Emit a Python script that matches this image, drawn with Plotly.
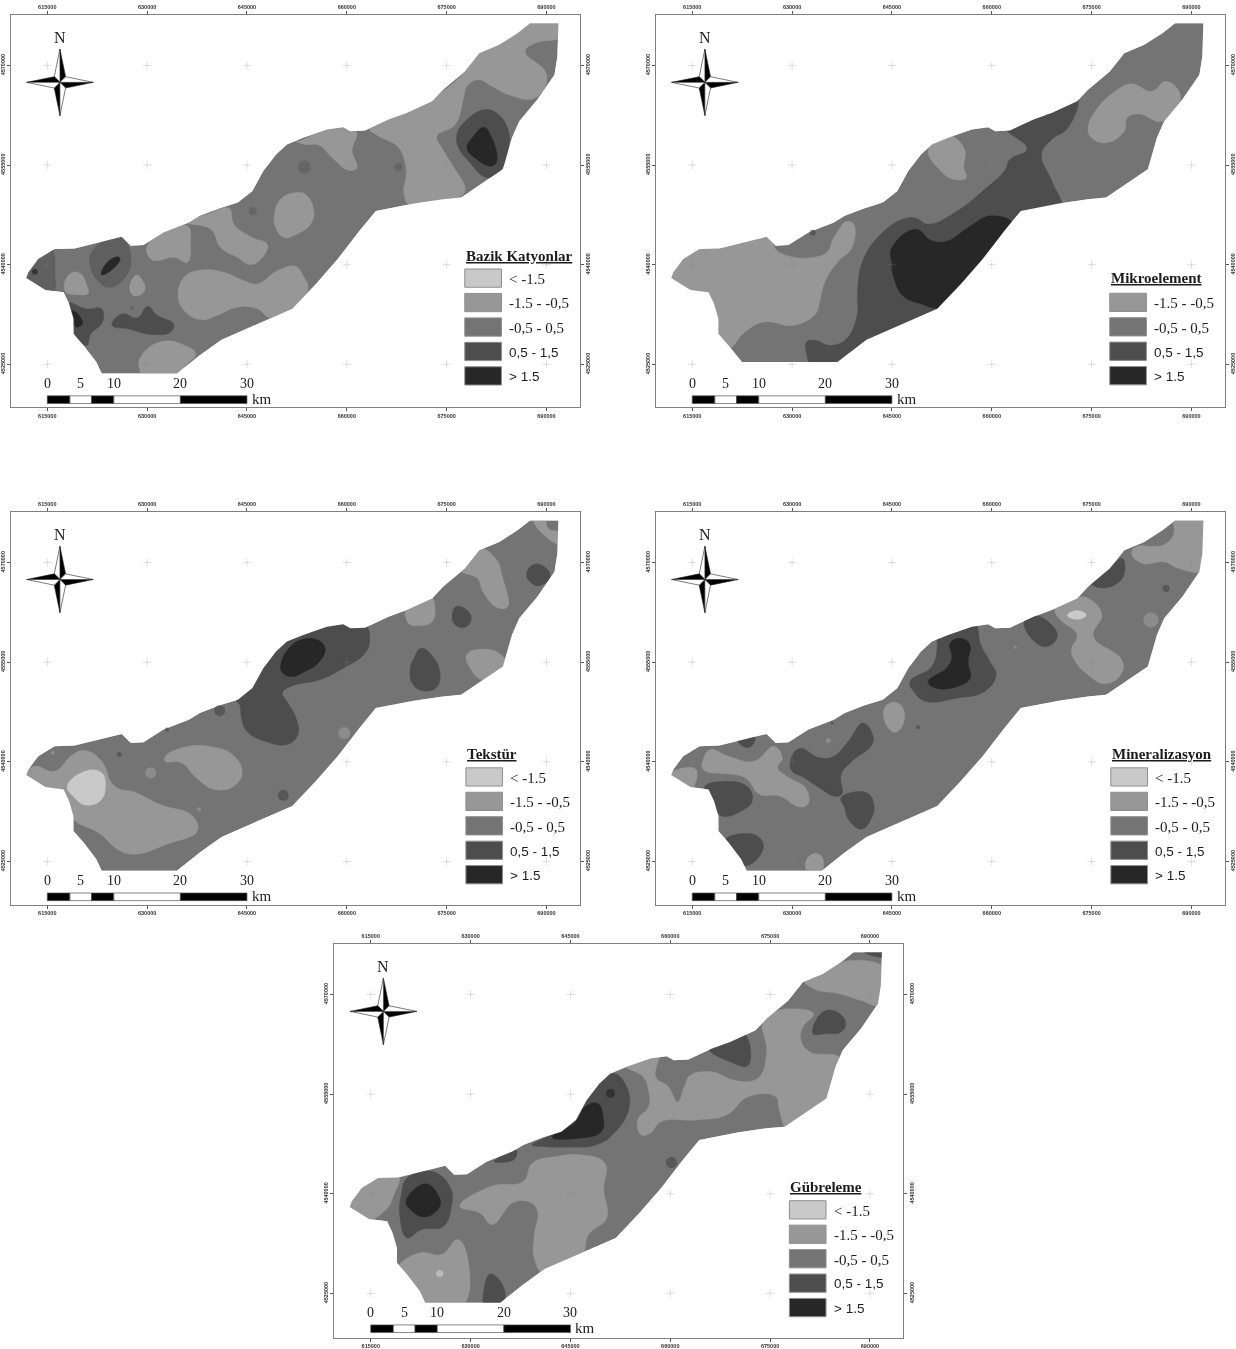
import plotly.graph_objects as go

# ---------- classes ----------
CLASS_LABELS = ["< -1.5", "-1.5 - -0,5", "-0,5 - 0,5", "0,5 - 1,5", "> 1.5"]
CLASS_COLORS = ["#c9c9c9", "#979797", "#747474", "#4d4d4d", "#272727"]
MID_COLOR = "#5f5f5f"
PANEL_TITLES = ["Bazik Katyonlar", "Mikroelement", "Tekstür", "Mineralizasyon", "Gübreleme"]
EAST_TICKS = [615000, 630000, 645000, 660000, 675000, 690000]
NORTH_TICKS = [4525000, 4540000, 4555000, 4570000]
SCALE_EDGES_KM = [0, 3.4, 6.65, 10, 20, 30]
SCALE_LABELS_KM = [0, 5, 10, 20, 30]

# ---------- map read-offs: x = 275 units per 15 km, y = 300 units per 15 km ----------
OUTLINE = [(1508,25),(1505,125),(1497,180),(1450,255),(1400,320),(1380,370),(1355,465),(1300,505),(1240,550),(1190,555),
           (1110,568),(1005,590),(960,650),(900,735),(840,810),(775,885),(680,930),(580,978),(520,1025),(457,1080),
           (250,1080),(235,1045),(200,995),(172,960),(172,915),(160,870),(145,835),(95,828),(42,792),(48,775),
           (75,735),(120,705),(175,703),(245,685),(305,668),(330,695),(365,693),(420,655),(490,625),(520,605),
           (575,582),(625,565),(665,530),(695,470),(730,420),(760,390),(805,370),(870,345),(915,338),(935,350),
           (975,348),(1040,315),(1090,295),(1160,260),(1190,225),(1250,170),(1290,115),(1345,90),(1395,55),(1430,25)]
OUTLINE_P2 = [(1508,25),(1505,125),(1497,180),(1450,255),(1400,320),(1380,370),(1355,465),(1300,505),(1240,550),(1190,555),
           (1110,568),(1005,590),(960,650),(900,735),(840,810),(775,885),(680,930),(580,978),(500,1045),
           (237,1045),(200,995),(172,960),(172,915),(160,870),(145,835),(95,828),(42,792),(48,775),
           (75,735),(120,705),(175,703),(245,685),(305,668),(330,695),(365,693),(420,655),(490,625),(520,605),
           (575,582),(625,565),(665,530),(695,470),(730,420),(760,390),(805,370),(870,345),(915,338),(935,350),
           (975,348),(1040,315),(1090,295),(1160,260),(1190,225),(1250,170),(1290,115),(1345,90),(1395,55),(1430,25)]

def k(points):
    """Panel 1 was read at 300 units per 15 km in x."""
    return [(x * 2.75 / 3, y) for x, y in points]

def r(points):
    """Panel 1, east half of the reading."""
    return [(x + 855, y) for x, y in points]

P1_LOW = [
    k([(165,795),(185,775),(210,780),(228,815),(232,838),(195,842),(165,835),(160,815)]),
    k([(380,783),(395,800),(403,825),(385,845),(365,843),(357,820),(365,795)]),
    k([(408,700),(460,655),(530,635),(540,690),(530,745),(490,730),(440,740),(420,735)]),
    k([(530,625),(590,600),(655,582),(670,630),(725,670),(770,690),(760,725),(720,752),(680,730),(630,700),(600,645)]),
    k([(520,790),(570,768),(640,775),(700,800),(740,810),(800,770),(855,757),(880,790),(893,820),(860,880),(780,912),(740,885),(680,880),(620,905),(570,918),(520,890),(502,845)]),
    k([(855,535),(885,540),(910,590),(900,630),(855,662),(820,670),(795,640),(792,600),(810,555)]),
    k([(385,1040),(410,1005),(460,982),(510,990),(555,1020),(530,1050),(490,1090),(400,1090),(385,1060)]),
    k(r([(10,380),(100,345),(182,352),(170,410),(185,460),(160,468),(110,430),(70,392),(30,390),(0,380)])),
    k(r([(222,340),(350,285),(420,245),(490,190),(540,120),(700,15),(800,15),(800,65),(720,85),(690,110),(755,180),(720,250),(640,240),(590,215),(550,195),(515,215),(505,250),(480,330),(425,365),(440,400),(470,450),(510,525),(490,550),(420,560),(345,575),(325,530),(332,490),(328,440),(305,395),(250,365)])),
]
P1_MID = [
    k([(130,720),(132,770),(128,832),(90,835),(30,795),(60,755),(85,730),(120,700)]),
    k([(300,672),(335,672),(360,725),(350,780),(300,820),(265,805),(238,755),(245,710)]),
]
P1_HIGH = [
    k([(175,868),(225,885),(272,885),(275,925),(240,960),(228,995),(195,970),(188,935),(175,895)]),
    k([(303,930),(335,900),(380,912),(410,878),(440,905),(488,930),(480,955),(420,962),(350,945),(310,940)]),
    k(r([(570,285),(610,300),(640,350),(640,400),(615,470),(575,490),(520,440),(490,400),(485,360),(510,320)])),
]
P1_TOP = [
    k([(185,890),(205,905),(215,930),(195,940),(190,915)]),
    k([(285,750),(320,728),(328,735),(300,770),(272,782)]),
    k(r([(565,338),(585,360),(605,440),(590,455),(545,435),(515,400),(535,365)])),
]
P1_DOTS_X = [808, 1067, 666, 332]
P1_DOTS_Y = [458, 458, 590, 883]
P1_DOTS_S = [13, 8, 8, 4]
P1_DARK_DOTS_X = [66]
P1_DARK_DOTS_Y = [773]
P1_DARK_DOTS_S = [6]

P2_LOW = [
    [(30,792),(75,725),(120,695),(175,693),(305,658),(340,715),(465,720),(490,670),(525,622),(545,630),(540,700),(500,745),(465,805),(450,870),(440,900),(380,935),(295,925),(240,960),(200,1005),(160,960),(160,915),(140,850),(95,838)],
    [(750,405),(805,362),(850,405),(848,460),(855,490),(820,495),(785,470)],
    [(1190,345),(1210,290),(1265,230),(1310,207),(1365,230),(1405,200),(1445,245),(1395,320),(1330,298),(1298,310),(1290,350),(1240,385),(1200,370)],
]
P2_HIGH = [
    [(415,985),(440,980),(480,995),(525,975),(555,900),(555,840),(570,740),(620,660),(680,615),(715,612),(750,630),(830,590),(900,530),(960,470),(975,435),(1020,410),(1020,395),(965,340),(1040,305),(1160,245),(1135,340),(1090,375),(1062,420),(1090,500),(1115,580),(1030,600),(790,895),(590,990),(500,1060),(430,1055),(415,1020)],
]
P2_TOP = [
    [(650,700),(715,645),(760,680),(805,680),(860,640),(925,605),(985,632),(950,715),(790,880),(730,870),(680,845),(655,790),(648,740)],
]
P2_DOTS_X = [1083, 432]
P2_DOTS_Y = [307, 656]
P2_DOTS_S = [6, 6]

P3_LOW = [
    [(1240,175),(1290,110),(1335,140),(1355,200),(1368,285),(1340,288),(1300,240),(1285,200)],
    [(1090,285),(1155,252),(1168,295),(1160,330),(1120,342),(1095,335)],
    [(1255,430),(1290,413),(1345,425),(1365,465),(1300,505),(1265,470)],
    [(1440,20),(1455,55),(1510,95),(1515,62),(1480,50),(1470,20)],
    [(425,735),(490,705),(560,708),(610,730),(637,780),(615,825),(560,835),(510,800),(470,755),(425,750)],
    [(35,792),(65,765),(120,780),(170,730),(205,718),(250,750),(285,825),(345,845),(410,880),(500,915),(513,960),(430,1000),(345,1030),(300,1020),(240,965),(175,928),(155,880),(140,840),(95,838)],
]
P3_LOWEST = [
    [(155,825),(205,780),(250,785),(260,830),(245,870),(205,882),(175,860)],
]
P3_HIGH = [
    [(620,565),(665,520),(695,460),(730,410),(760,380),(805,360),(870,335),(915,330),(935,340),(975,338),(988,385),(975,425),(915,470),(850,505),(770,525),(748,545),(760,570),(785,620),(790,670),(760,700),(700,690),(650,660),(635,620),(630,580)],
    [(1420,185),(1440,158),(1470,165),(1485,195),(1455,222),(1430,210)],
    [(1215,310),(1225,285),(1250,290),(1268,320),(1250,347),(1222,338)],
    [(1130,410),(1165,440),(1182,490),(1170,530),(1130,537),(1105,515),(1100,470),(1110,440)],
]
P3_TOP = [
    [(745,450),(770,405),(805,383),(845,385),(865,410),(850,450),(810,480),(770,495),(745,480)],
]
P3_LOW_DOTS_X = [385, 918, 115, 518]
P3_LOW_DOTS_Y = [785, 665, 725, 895]
P3_LOW_DOTS_S = [11, 12, 4, 4]
P3_DOTS_X = [575, 298, 750, 430]
P3_DOTS_Y = [598, 730, 853, 655]
P3_DOTS_S = [11, 5, 11, 4]

P4_LOW = [
    [(1430,15),(1515,15),(1515,125),(1505,178),(1440,170),(1400,150),(1340,155),(1310,125),(1320,105),(1370,103),(1395,100),(1425,70)],
    [(1100,290),(1165,255),(1205,270),(1228,310),(1205,375),(1280,440),(1285,480),(1240,517),(1185,485),(1150,440),(1145,410),(1160,370),(1110,320)],
    [(630,590),(655,572),(680,590),(682,635),(660,663),(640,650),(628,620)],
    [(412,1055),(435,1028),(458,1040),(455,1085),(420,1085)],
    [(130,745),(150,715),(200,735),(270,750),(325,705),(348,740),(335,770),(360,795),(415,835),(418,880),(395,888),(340,855),(285,850),(245,800),(130,775)],
    [(35,795),(60,775),(110,775),(105,825),(95,838)],
]
P4_LOWEST = [
    [(1133,310),(1160,296),(1185,310),(1170,322),(1140,318)],
]
P4_HIGH = [
    [(1195,210),(1250,165),(1285,140),(1290,185),(1270,215),(1225,228)],
    [(1015,325),(1040,310),(1090,340),(1105,375),(1075,405),(1030,375)],
    [(700,510),(760,465),(775,400),(775,380),(875,332),(895,400),(920,450),(937,490),(905,540),(830,560),(745,570),(710,540)],
    [(370,750),(395,712),(450,740),(490,735),(530,690),(570,635),(595,665),(595,700),(540,750),(510,790),(512,850),(490,855),(450,830),(400,795),(375,780)],
    [(510,860),(580,845),(600,880),(590,930),(565,955),(530,925),(520,890)],
    [(135,825),(170,812),(250,825),(265,870),(235,900),(180,915),(155,870),(135,835)],
    [(190,990),(240,968),(285,980),(295,1015),(250,1065),(225,1045)],
    [(225,685),(272,670),(265,703),(245,708)],
]
P4_TOP = [
    [(750,510),(800,470),(815,440),(810,395),(840,380),(865,400),(860,450),(865,500),(830,525),(770,530)],
]
P4_LOW_DOTS_X = [1363, 990, 475]
P4_LOW_DOTS_Y = [325, 407, 688]
P4_LOW_DOTS_S = [15, 3, 5]
P4_DOTS_X = [1405, 722, 485]
P4_DOTS_Y = [230, 648, 635]
P4_DOTS_S = [7, 4, 3]

P5_LOW = [
    [(30,792),(75,725),(120,695),(178,693),(160,765),(150,790),(108,830),(95,838)],
    [(175,975),(235,930),(295,935),(340,890),(370,965),(352,1090),(245,1090),(190,1005)],
    [(345,790),(430,730),(520,715),(545,660),(610,640),(680,635),(745,660),(742,740),(750,825),(700,875),(680,940),(580,995),(550,945),(550,880),(558,800),(530,775),(490,780),(435,845),(400,810)],
    [(800,365),(880,335),(895,330),(885,400),(920,430),(945,475),(965,425),(980,395),(1040,385),(1100,410),(1165,405),(1190,330),(1180,230),(1210,205),(1260,195),(1320,210),(1290,250),(1285,290),(1310,325),(1395,345),(1365,465),(1250,558),(1225,500),(1215,460),(1140,460),(1080,515),(1000,530),(900,535),(870,570),(845,575),(835,530),(865,490),(865,440),(850,400)],
    [(1290,105),(1345,85),(1420,50),(1515,72),(1515,125),(1505,185),(1450,170),(1390,150),(1320,135)],
]
P5_HIGH = [
    [(185,750),(200,705),(270,685),(320,735),(322,790),(300,850),(240,860),(200,885),(180,820)],
    [(412,1040),(430,993),(468,1040),(460,1090),(415,1090)],
    [(545,605),(605,570),(665,520),(695,460),(730,410),(770,390),(800,420),(812,490),(770,570),(720,605),(640,612),(570,610)],
    [(440,655),(500,620),(498,645),(470,657)],
    [(1030,312),(1125,265),(1140,365),(1090,355)],
    [(1318,270),(1345,205),(1385,205),(1408,240),(1395,265),(1350,270)],
    [(1455,20),(1515,20),(1515,38),(1480,35)],
]
P5_TOP = [
    [(600,582),(665,535),(690,490),(725,480),(740,520),(735,565),(670,585)],
    [(197,775),(250,722),(285,755),(290,790),(250,822),(210,800)],
]
P5_LOWEST_DOTS_X = [290]
P5_LOWEST_DOTS_Y = [992]
P5_LOWEST_DOTS_S = [7]
P5_DOTS_X = [928]
P5_DOTS_Y = [658]
P5_DOTS_S = [11]
P5_TOP_DOTS_X = [760]
P5_TOP_DOTS_Y = [450]
P5_TOP_DOTS_S = [9]

# compass arms, metres from its centre
COMPASS_R = 5000
COMPASS_W = 850
COMPASS_E = 616900
COMPASS_N = 4567450

# frames in page pixels: left, top, right, bottom
FRAMES = [(10, 15, 579.5, 409), (656, 15, 1225.5, 409), (10, 514, 579.5, 908), (656, 514, 1225.5, 908), (334, 947.5, 903.5, 1342.5)]
FIG_W, FIG_H = 1236, 1349
LEGEND_TOPS = [765, 838, 770, 770, 773]
LEGEND_TITLE_Y = [725, 793, 728, 728, 732]
LEGEND_LEFT = [1250, 1250, 1253, 1253, 1253]

def E(zx):
    return 615000 + (zx - 100) * 15000 / 275

def N(zy):
    return 4525000 + (1052 - zy) * 50

PANELS = [
    dict(outline=OUTLINE, layers=[(P1_LOW, 1), (P1_MID, MID_COLOR), (P1_HIGH, 3), (P1_TOP, 4)],
         dots=[(P1_DOTS_X, P1_DOTS_Y, P1_DOTS_S, MID_COLOR), (P1_DARK_DOTS_X, P1_DARK_DOTS_Y, P1_DARK_DOTS_S, CLASS_COLORS[4])]),
    dict(outline=OUTLINE_P2, layers=[(P2_LOW, 1), (P2_HIGH, 3), (P2_TOP, 4)],
         dots=[(P2_DOTS_X, P2_DOTS_Y, P2_DOTS_S, CLASS_COLORS[3])]),
    dict(outline=OUTLINE, layers=[(P3_LOW, 1), (P3_LOWEST, 0), (P3_HIGH, 3), (P3_TOP, 4)],
         dots=[(P3_LOW_DOTS_X, P3_LOW_DOTS_Y, P3_LOW_DOTS_S, CLASS_COLORS[1]), (P3_DOTS_X, P3_DOTS_Y, P3_DOTS_S, CLASS_COLORS[3])]),
    dict(outline=OUTLINE, layers=[(P4_LOW, 1), (P4_LOWEST, 0), (P4_HIGH, 3), (P4_TOP, 4)],
         dots=[(P4_LOW_DOTS_X, P4_LOW_DOTS_Y, P4_LOW_DOTS_S, CLASS_COLORS[1]), (P4_DOTS_X, P4_DOTS_Y, P4_DOTS_S, CLASS_COLORS[3])]),
    dict(outline=OUTLINE, layers=[(P5_LOW, 1), (P5_HIGH, 3), (P5_TOP, 4)],
         dots=[(P5_LOWEST_DOTS_X, P5_LOWEST_DOTS_Y, P5_LOWEST_DOTS_S, CLASS_COLORS[0]),
               (P5_DOTS_X, P5_DOTS_Y, P5_DOTS_S, CLASS_COLORS[3]),
               (P5_TOP_DOTS_X, P5_TOP_DOTS_Y, P5_TOP_DOTS_S, CLASS_COLORS[4])]),
]

fig = go.Figure()
layout = dict(width=FIG_W, height=FIG_H, margin=dict(l=0, r=0, t=0, b=0), autosize=False,
              paper_bgcolor="white", plot_bgcolor="white", showlegend=False, hovermode=False)
annotations, shapes = [], []
AXIS_COLOR = "#808080"
SERIF, SANS = "Liberation Serif", "Liberation Sans"


def poly(pts, color, xa, ya, spline=True):
    xs = [E(p[0]) for p in pts] + [E(pts[0][0])]
    ys = [N(p[1]) for p in pts] + [N(pts[0][1])]
    fig.add_trace(go.Scatter(x=xs, y=ys, mode="lines", fill="toself", fillcolor=color, xaxis=xa, yaxis=ya,
                             line=dict(color=color, width=0.4, shape="spline" if spline else "linear", smoothing=1.25),
                             hoverinfo="skip"))


def text(xa, ya, x, y, s, size, family=SERIF, anchor="left", bold=False, under=False):
    font = dict(family=family, size=size, color="#1c1c1c", weight=700 if bold else 400)
    if under:
        font["lineposition"] = "under"
    annotations.append(dict(xref=xa, yref=ya, x=x, y=y, text=s, showarrow=False, xanchor=anchor, yanchor="middle",
                            font=font, borderpad=0, align="left"))


for i, panel in enumerate(PANELS):
    l, t, rt, b = FRAMES[i]
    n1, n2 = 2 * i + 1, 2 * i + 2
    xa, ya, xb, yb = f"x{n1}", f"y{n1}", f"x{n2}", f"y{n2}"
    zh = (b - t) * 3
    xrange_ = [E(0), E((rt - l) * 2.75)]
    yrange_ = [N(zh), N(0)]
    dx = [l / FIG_W, rt / FIG_W]
    dy = [1 - b / FIG_H, 1 - t / FIG_H]
    common = dict(showgrid=False, zeroline=False, showline=True, linecolor=AXIS_COLOR, linewidth=1,
                  ticks="outside", ticklen=3, tickwidth=1, tickcolor="#555555",
                  tickfont=dict(family=SANS, size=5.5, color="#333333", weight=700), fixedrange=True)
    layout[f"xaxis{n1}"] = dict(common, range=xrange_, domain=dx, anchor=ya, side="bottom",
                                tickvals=EAST_TICKS, ticktext=[str(v) for v in EAST_TICKS], tickangle=0)
    layout[f"xaxis{n2}"] = dict(common, range=xrange_, domain=dx, anchor=yb, side="top", overlaying=xa,
                                tickvals=EAST_TICKS, ticktext=[str(v) for v in EAST_TICKS], tickangle=0)
    layout[f"yaxis{n1}"] = dict(common, range=yrange_, domain=dy, anchor=xa, side="left",
                                tickvals=NORTH_TICKS, ticktext=[str(v) for v in NORTH_TICKS], tickangle=-90)
    layout[f"yaxis{n2}"] = dict(common, range=yrange_, domain=dy, anchor=xb, side="right", overlaying=ya,
                                tickvals=NORTH_TICKS, ticktext=[str(v) for v in NORTH_TICKS], tickangle=-90)

    # base class, contour classes, then the white surround that trims them to the study area
    poly(panel["outline"], CLASS_COLORS[2], xa, ya, spline=False)
    for polys, cls in panel["layers"]:
        color = cls if isinstance(cls, str) else CLASS_COLORS[cls]
        for p in polys:
            poly(p, color, xa, ya)
    out = panel["outline"]
    mask_x = [xrange_[0], xrange_[1], xrange_[1], xrange_[0], xrange_[0], None] + [E(p[0]) for p in out] + [E(out[0][0])]
    mask_y = [yrange_[0], yrange_[0], yrange_[1], yrange_[1], yrange_[0], None] + [N(p[1]) for p in out] + [N(out[0][1])]
    fig.add_trace(go.Scatter(x=mask_x, y=mask_y, mode="lines", fill="toself", fillcolor="white", xaxis=xa, yaxis=ya,
                             line=dict(width=0, color="white"), hoverinfo="skip"))
    for dxs, dys, dss, col in panel["dots"]:
        fig.add_trace(go.Scatter(x=[E(v) for v in dxs], y=[N(v) for v in dys], mode="markers", xaxis=xa, yaxis=ya,
                                 marker=dict(size=dss, color=col, line=dict(width=0)), hoverinfo="skip"))

    # grid crosses, in the overlay subplot
    cx = [e for e in EAST_TICKS for _ in NORTH_TICKS]
    cy = [v for _ in EAST_TICKS for v in NORTH_TICKS]
    fig.add_trace(go.Scatter(x=cx, y=cy, mode="markers", xaxis=xb, yaxis=yb, hoverinfo="skip",
                             marker=dict(symbol="cross-thin", size=6, line=dict(color="rgba(130,130,130,0.25)", width=1))))

    # compass
    R, W = COMPASS_R, COMPASS_W
    arms = [((0, R), (W, W), "black"), ((0, R), (-W, W), "white"),
            ((R, 0), (W, -W), "black"), ((R, 0), (W, W), "white"),
            ((0, -R), (-W, -W), "black"), ((0, -R), (W, -W), "white"),
            ((-R, 0), (-W, W), "black"), ((-R, 0), (-W, -W), "white")]
    for tip, waist, col in arms:
        ax = [COMPASS_E, COMPASS_E + tip[0], COMPASS_E + waist[0], COMPASS_E]
        ay = [COMPASS_N, COMPASS_N + tip[1], COMPASS_N + waist[1], COMPASS_N]
        fig.add_trace(go.Scatter(x=ax, y=ay, mode="lines", fill="toself", fillcolor=col, xaxis=xb, yaxis=yb,
                                 line=dict(color="#222222", width=0.6), hoverinfo="skip"))
    text(xb, yb, COMPASS_E, COMPASS_N + 6800, "N", 16, anchor="center")

    # scale bar
    for j in range(len(SCALE_EDGES_KM) - 1):
        shapes.append(dict(type="rect", xref=xb, yref=yb, layer="above",
                           x0=E(100) + SCALE_EDGES_KM[j] * 1000, x1=E(100) + SCALE_EDGES_KM[j + 1] * 1000,
                           y0=N(1170), y1=N(1147), fillcolor="black" if j % 2 == 0 else "white",
                           line=dict(color="#555555", width=0.7)))
    for km in SCALE_LABELS_KM:
        text(xb, yb, E(100) + km * 1000, N(1110), str(km), 14, anchor="center")
    text(xb, yb, E(660), N(1157), "km", 15)

    # legend
    classes = list(range(5)) if i != 1 else list(range(1, 5))
    left = LEGEND_LEFT[i]
    text(xb, yb, E(left), N(LEGEND_TITLE_Y[i]), PANEL_TITLES[i], 15, bold=True, under=True)
    for row, cls in enumerate(classes):
        top = LEGEND_TOPS[i] + row * 73.6
        shapes.append(dict(type="rect", xref=xb, yref=yb, layer="above", x0=E(left), x1=E(left + 101),
                           y0=N(top + 55), y1=N(top), fillcolor=CLASS_COLORS[cls],
                           line=dict(color="#8f8f8f", width=1)))
        sans = cls >= 3
        text(xb, yb, E(left + 119), N(top + 30), CLASS_LABELS[cls], 13.5 if sans else 15,
             family=SANS if sans else SERIF)

layout["annotations"] = annotations
layout["shapes"] = shapes
fig.update_layout(**layout)
fig.write_html("out.html", config={"displayModeBar": False},
               post_script="document.body.style.margin='0';document.body.style.overflow='hidden';"
                           "document.querySelector('.plotly-graph-div').style.filter='blur(0.55px)';")
